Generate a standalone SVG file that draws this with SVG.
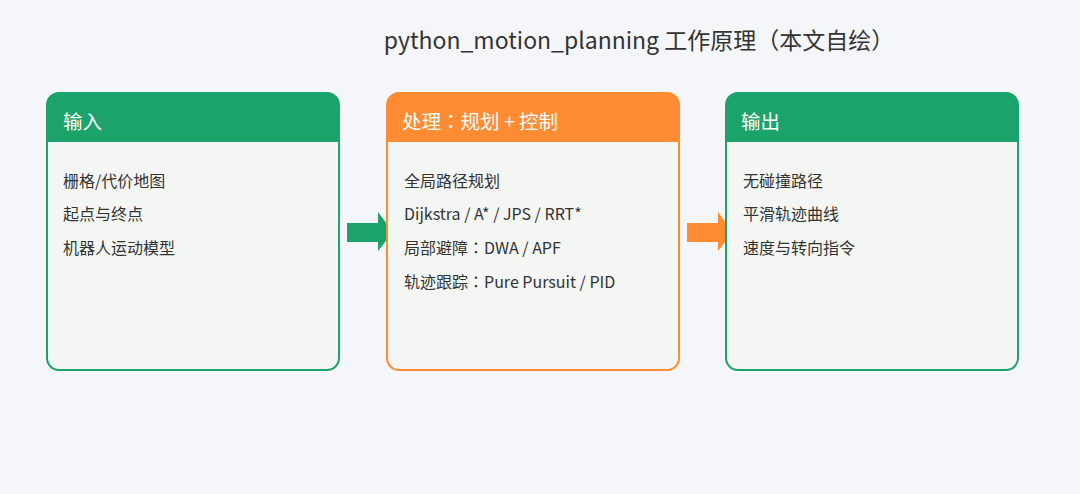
<svg xmlns="http://www.w3.org/2000/svg" width="1080" height="494" viewBox="0 0 1080 494">
<style>
text{font-family:"Noto Sans CJK SC","Noto Sans",sans-serif}
.c{font-family:"Noto Sans CJK TC","Noto Sans CJK SC",sans-serif}
.title{font-size:23px;fill:#333}
.hdr{font-size:19.5px;fill:#fff}
.item{font-size:16px;fill:#333}
.body{fill:#f3f6f3;stroke-width:2}
</style>
<rect width="1080" height="494" fill="#f5f6fa"/>
<text class="title" x="639" y="49" text-anchor="middle">python_motion_planning 工作原理（本文自绘）</text>
<g id="connectors">
<polygon points="347,223 378,223 378,212 393,232 378,251 378,242 347,242" fill="#1ba36b"/>
<polygon points="687,223 718,223 718,212 733,232 718,251 718,242 687,242" fill="#ff8c33"/>
</g>
<g id="input">
<rect class="body" x="47" y="93" width="292" height="277" rx="12" stroke="#1ba36b"/>
<path d="M47,142 V105 A12,12 0 0 1 59,93 H327 A12,12 0 0 1 339,105 V142 Z" fill="#1ba36b"/>
<text class="hdr" x="63" y="129">输入</text>
<text class="item" x="63" y="187">栅格/代价地图</text>
<text class="item" x="63" y="220">起点与终点</text>
<text class="item" x="63" y="254">机器人运动模型</text>
</g>
<g id="process">
<rect class="body" x="387" y="93" width="292" height="277" rx="12" stroke="#ff8c33"/>
<path d="M387,142 V105 A12,12 0 0 1 399,93 H667 A12,12 0 0 1 679,105 V142 Z" fill="#ff8c33"/>
<text class="hdr" x="402" y="129">处理<tspan class="c">：</tspan>规划 + 控制</text>
<text class="item" x="404" y="187">全局路径规划</text>
<text class="item" x="404" y="220">Dijkstra / A* / JPS / RRT*</text>
<text class="item" x="404" y="254">局部避障<tspan class="c">：</tspan>DWA / APF</text>
<text class="item" x="404" y="288">轨迹跟踪<tspan class="c">：</tspan>Pure Pursuit / PID</text>
</g>
<g id="output">
<rect class="body" x="726" y="93" width="292" height="277" rx="12" stroke="#1ba36b"/>
<path d="M726,142 V105 A12,12 0 0 1 738,93 H1006 A12,12 0 0 1 1018,105 V142 Z" fill="#1ba36b"/>
<text class="hdr" x="741" y="129">输出</text>
<text class="item" x="743" y="187">无碰撞路径</text>
<text class="item" x="743" y="220">平滑轨迹曲线</text>
<text class="item" x="743" y="254">速度与转向指令</text>
</g>
</svg>
